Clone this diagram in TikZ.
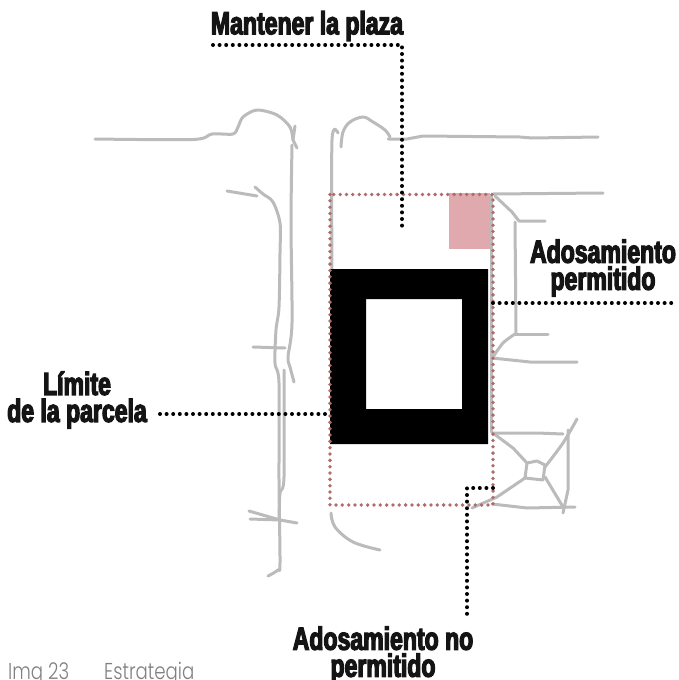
\documentclass[tikz,border=0pt]{standalone}
\usepackage{fontspec}
\setmainfont{Liberation Sans}
\newfontfamily\headf[FakeStretch=0.72,FakeBold=3.8]{Liberation Sans Bold}
\newfontfamily\capf[FakeStretch=0.79]{Poppins Light}
\definecolor{roadgrey}{HTML}{BBBBBB}
\definecolor{plotred}{HTML}{B06C6C}
\definecolor{pinkfill}{HTML}{E0A9AD}
\tikzset{
  road/.style={draw=roadgrey,line width=3pt,line cap=round,line join=round},
  plotline/.style={draw=plotred,line width=3.8pt,line cap=round,dash pattern=on 0pt off 6.33pt},
  leader/.style={draw=black,line width=4pt,line cap=round,dash pattern=on 0pt off 6.6pt},
  heading/.style={font=\headf\fontsize{32}{27}\selectfont,text=black!92,align=center,inner sep=0pt},
  captiontext/.style={font=\capf\fontsize{23}{25}\selectfont,text=black!50,inner sep=0pt,anchor=base west}
}
\begin{document}
\begin{tikzpicture}[x=1pt,y=-1pt]
\useasboundingbox (0,0) rectangle (678,680);
% roads
\draw[road] plot[smooth,tension=.5] coordinates {(95,139) (193,139.5) (212,134) (233,134) (238,127) (243,117) (257,110) (277,115) (290,127) (293,140)};
\draw[road] (295,126) -- (293,140) -- (297,148);
\draw[road] plot[smooth,tension=.5] coordinates {(292,145) (291,223) (292,323) (288,357) (290,367) (294,382)};
\draw[road] (227,191) -- (257,196);
\draw[road] plot[smooth,tension=.5] coordinates {(255,187) (263,194) (273,202) (280,223) (280,253) (279,307) (276,330) (275,363) (279,383) (279,480) (280,563) (278,570) (268,576)};
\draw[road] (253,347) -- (285,348);
\draw[road] plot[smooth,tension=.5] coordinates {(284,370) (284,477) (280,493) (279,520)};
\draw[road] (249,511) -- (280,520) -- (297,523);
\draw[road] (250,519) -- (280,520);
\draw[road] plot[smooth,tension=.6] coordinates {(331,513) (335,527) (353,542) (380,550)};
\draw[road] plot[smooth,tension=.5] coordinates {(338,133) (332,140) (332,270)};
\draw[road] plot[smooth,tension=.6] coordinates {(341,147) (343,132) (350,122) (363,117) (373,122) (385,130) (390,137)};
\draw[road] (388,139) -- (407,139) -- (423,136) -- (520,137) -- (532,138) -- (598,137);
\draw[road] (493,194) -- (603,193);
\draw[road] (495,196) -- (512,212) -- (519,221) -- (545,221);
\draw[road] (515,222) -- (516,333);
\draw[road] (515,334) -- (548,334);
\draw[road] plot[smooth,tension=.5] coordinates {(515,334) (503,343) (493,357)};
\draw[road] (492,358) -- (530,362) -- (577,362);
\draw[road] (491,195) -- (491,432);
\draw[road] (493,433) -- (537,433) -- (563,434);
\draw[road] (493,433) -- (513,448) -- (527,463) -- (525,478) -- (543,480) -- (545,465) -- (537,461) -- (527,463);
\draw[road] plot[smooth,tension=.5] coordinates {(545,467) (563,443) (577,419)};
\draw[road] (568,430) -- (568,490) -- (563,513);
\draw[road] (545,477) -- (563,507);
\draw[road] (525,478) -- (497,497) -- (472,508);
\draw[road] (492,504) -- (527,508) -- (575,507);
% pink area and built frame
\fill[pinkfill] (449,193) rectangle (490,249);
\fill[black,even odd rule] (330,269) rectangle (488,444) (366,299) rectangle (462,409);
% plot limit
\draw[plotline] (330,194.5) rectangle (493,505);
% labels
\node[heading] (plaza) at (307,26) {Mantener la plaza};
\node[heading] (perm) at (603,268) {Adosamiento\\permitido};
\node[heading] (limite) at (77,400) {Límite\\de la parcela};
\node[heading] (noperm) at (383,655) {Adosamiento no\\permitido};
\node[captiontext] (cap) at (8,679) {Img 23\hspace{35pt}Estrategia};
% leaders
\coordinate (pA) at (213,45);
\coordinate (pB) at (402,45);
\coordinate (pC) at (402,226);
\draw[leader] (pA) -- (pB) -- (pC);
\coordinate (rA) at (493,303);
\coordinate (rB) at (676,303);
\draw[leader] (rA) -- (rB);
\coordinate (lA) at (160,414);
\coordinate (lB) at (328,414);
\draw[leader] (lA) -- (lB);
\coordinate (nA) at (493,488);
\coordinate (nB) at (467,488);
\coordinate (nC) at (467,616);
\draw[leader] (nA) -- (nB) -- (nC);
\end{tikzpicture}
\end{document}
